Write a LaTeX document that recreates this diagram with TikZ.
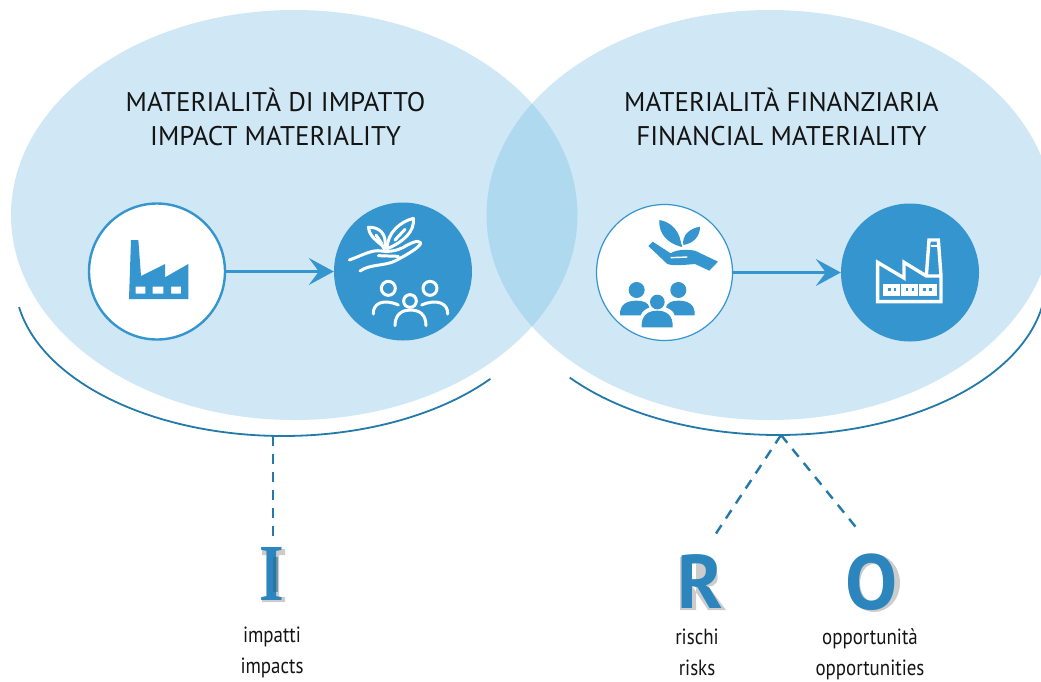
\documentclass[tikz,border=0pt]{standalone}
\usepackage{fontspec}
\setmainfont{PT Sans}
\newfontfamily\narrowfont[FakeStretch=0.86]{PT Sans}
\newfontfamily\serifletter[FakeStretch=0.78]{Liberation Serif}
\usetikzlibrary{arrows.meta}
\definecolor{ell}{HTML}{D0E8F5}
\definecolor{lens}{HTML}{AED9EE}
\definecolor{icon}{HTML}{3595CE}
\definecolor{rule}{HTML}{2379A8}
\definecolor{letter}{HTML}{2C85BC}
\definecolor{letterdark}{HTML}{27688F}
\tikzset{
  x=1pt,y=-1pt,
  ringw/.style={circle,draw=icon,fill=white,minimum size=136pt,inner sep=0pt},
  ringf/.style={circle,fill=icon,minimum size=138pt,inner sep=0pt},
  flow/.style={draw=icon,line width=2.4pt,-{Stealth[length=25pt,width=27pt,inset=10pt]}},
  arcline/.style={draw=rule,line width=1.8pt},
  dashline/.style={draw=rule,line width=2.4pt,dash pattern=on 10pt off 8pt},
  title/.style={align=center,font=\fontsize{27}{34}\selectfont,text=black!92,inner sep=0pt},
  caption/.style={align=center,font=\narrowfont\fontsize{22}{31}\selectfont,text=black!92,inner sep=0pt},
  iconA/.style={shift={(70pt,-190pt)},x=0.33333pt,y=-0.33333pt},
  iconB/.style={shift={(580pt,-190pt)},x=0.33333pt,y=-0.33333pt},
  wstroke/.style={draw=white,line width=3pt,line cap=round,line join=round},
  shade/.style={fill=black,opacity=0.2},
}
\begin{document}
\begin{tikzpicture}
\useasboundingbox (0,0) rectangle (1041,681);
\clip (0,0) rectangle (1041,681);
% ellipses
\fill[ell] (294.25,215) ellipse[x radius=283.25pt,y radius=205pt];
\fill[ell] (769.75,215) ellipse[x radius=283.25pt,y radius=205pt];
\begin{scope}
\clip (294.25,215) ellipse[x radius=283.25pt,y radius=205pt];
\fill[lens] (769.75,215) ellipse[x radius=283.25pt,y radius=205pt];
\end{scope}
% titles
\node[title] (t1) at (275.5,117) {MATERIALITÀ DI IMPATTO\\IMPACT MATERIALITY};
\node[title] (t2) at (781.5,117) {MATERIALITÀ FINANZIARIA\\FINANCIAL MATERIALITY};
% circles
\node[ringw,line width=2.4pt] (a1) at (157,271.5) {};
\node[ringf] (a2) at (403,271.5) {};
\node[ringw,line width=1.2pt] (b1) at (664.5,272.5) {};
\node[ringf] (b2) at (910,272.5) {};
\draw[flow] (a1) -- (a2);
\draw[flow] (b1) -- (b2);
% factory (solid)
\begin{scope}[iconA]
\fill[icon,even odd rule] (183,150) -- (205,150) -- (213,258) -- (285,222) -- (285,262) -- (355,222) -- (355,327) -- (177,327) -- cycle
  (197,290) rectangle (226,311) (248,290) rectangle (280,311) (303,290) rectangle (333,311);
% plant and hand (outline)
\draw[wstroke] (838,210) .. controls (880,195) and (905,178) .. (935,183) .. controls (960,187) and (985,180) .. (1000,172) .. controls (1020,160) and (1045,148) .. (1052,158) .. controls (1055,170) and (1000,200) .. (975,213) .. controls (945,228) and (900,222) .. (870,243);
\draw[wstroke] (925,197) -- (985,199);
\draw[wstroke] (943,178) .. controls (940,160) and (900,150) .. (895,112) .. controls (925,110) and (955,130) .. (943,178) -- cycle;
\draw[wstroke] (952,176) .. controls (950,130) and (990,95) .. (1030,85) .. controls (1035,125) and (1000,155) .. (952,176) -- cycle;
\draw[wstroke] (918,135) -- (935,160) (1005,118) -- (975,150);
% people (outline)
\draw[wstroke] (955,295) circle[radius=21];
\draw[wstroke] (1080,295) circle[radius=21];
\draw[wstroke] (1020,333) circle[radius=19];
\draw[wstroke] (910,372) .. controls (908,340) and (940,325) .. (985,345);
\draw[wstroke] (1133,372) .. controls (1135,340) and (1100,325) .. (1055,345);
\draw[wstroke] (975,407) .. controls (975,370) and (1000,360) .. (1020,360) .. controls (1045,360) and (1068,370) .. (1068,407);
\end{scope}
% right icons
\begin{scope}[iconB]
% plant and hand (solid)
\fill[icon] (303,170) .. controls (305,130) and (275,95) .. (238,90) .. controls (235,130) and (262,160) .. (303,170) -- cycle;
\fill[icon] (310,165) .. controls (305,135) and (330,115) .. (360,110) .. controls (360,140) and (340,160) .. (310,165) -- cycle;
\draw[icon,line width=1.5pt] (285,125) -- (305,170);
\fill[icon] (205,168) -- (218,155) -- (272,190) .. controls (290,178) and (320,178) .. (345,182) -- (414,215) -- (388,242) -- (345,222) .. controls (310,225) and (280,228) .. (262,222) -- cycle;
\draw[white,line width=1.4pt] (272,203) -- (322,201);
% people (solid)
\fill[icon] (170,300) circle[radius=24];
\fill[icon] (295,300) circle[radius=24];
\fill[icon] (232,336) circle[radius=22];
\fill[icon] (120,376) .. controls (118,340) and (145,332) .. (170,332) .. controls (190,332) and (205,338) .. (208,352) .. controls (195,358) and (185,365) .. (182,376) -- cycle;
\fill[icon] (344,376) .. controls (346,340) and (320,332) .. (295,332) .. controls (275,332) and (262,338) .. (258,352) .. controls (272,358) and (282,365) .. (284,376) -- cycle;
\fill[icon] (185,412) .. controls (183,375) and (205,362) .. (232,362) .. controls (258,362) and (280,375) .. (278,412) -- cycle;
% factory (outline)
\draw[white,line width=3.4pt,line join=miter] (1039,258) -- (1047,150) -- (1075,150) -- (1083,258) -- (1083,335) -- (893,335) -- (893,217) -- (972,264) -- (972,217) -- (1039,258) -- (1083,258);
\fill[white] (910,283) rectangle (1070,318);
\draw[icon,line width=1pt] (962,283) -- (962,318) (1015,283) -- (1015,318);
\fill[white] (1052,165) rectangle (1070,172);
\foreach \dx in {925,942,978,995,1030,1048}{\fill[icon] (\dx,295) rectangle ++(7,7);}
\end{scope}
% arcs
\draw[arcline] plot[domain=170:39.3,samples=80,smooth,variable=\t] ({283+268*cos(\t)},{280+156*sin(\t)});
\draw[arcline] plot[domain=141:9.9,samples=80,smooth,variable=\t] ({778+268*cos(\t)},{280+155*sin(\t)});
% dashed connectors
\coordinate (i0) at (273,436);
\coordinate (r0) at (781,435);
\node[inner sep=0pt,minimum size=0pt] (iend) at (273,541) {};
\node[inner sep=0pt,minimum size=0pt] (rend) at (713,538) {};
\node[inner sep=0pt,minimum size=0pt] (oend) at (859,531) {};
\draw[dashline] (i0) -- (iend);
\draw[dashline] (r0) -- (rend);
\draw[dashline] (r0) -- (oend);
% letter shadows
\fill[shade] (262,549) rectangle (285,555) (262,597) rectangle (285,602) (268,549) rectangle (279,602);
\fill[shade] (680,557) rectangle (696,610)
  (690,557) .. controls (720,555) and (725,589) .. (708,586) -- (726,610) -- (708,610) -- (690,583) -- cycle;
\fill[shade,even odd rule] (874,583) ellipse[x radius=26pt,y radius=29pt] (874,583) ellipse[x radius=14pt,y radius=19pt];
% letters
\node[anchor=base,inner sep=0pt,text=letter,font=\serifletter\bfseries\fontsize{81}{81}\selectfont] (li) at (272,600) {I};
\node[anchor=base,inner sep=0pt,text=letter,font=\bfseries\fontsize{76}{76}\selectfont] (lr) at (700,608) {R};
\node[anchor=base,inner sep=0pt,text=letter,font=\bfseries\fontsize{78}{78}\selectfont] (lo) at (872,609) {O};
% letter bevel
\fill[letterdark,opacity=.55] (273,557) rectangle (278,592);
% captions
\node[caption,anchor=base] (c1) at (272,673) {impatti\\impacts};
\node[caption,anchor=base] (c2) at (697,675.5) {rischi\\risks};
\node[caption,anchor=base] (c3) at (870,675.5) {opportunità\\opportunities};
\end{tikzpicture}
\end{document}
